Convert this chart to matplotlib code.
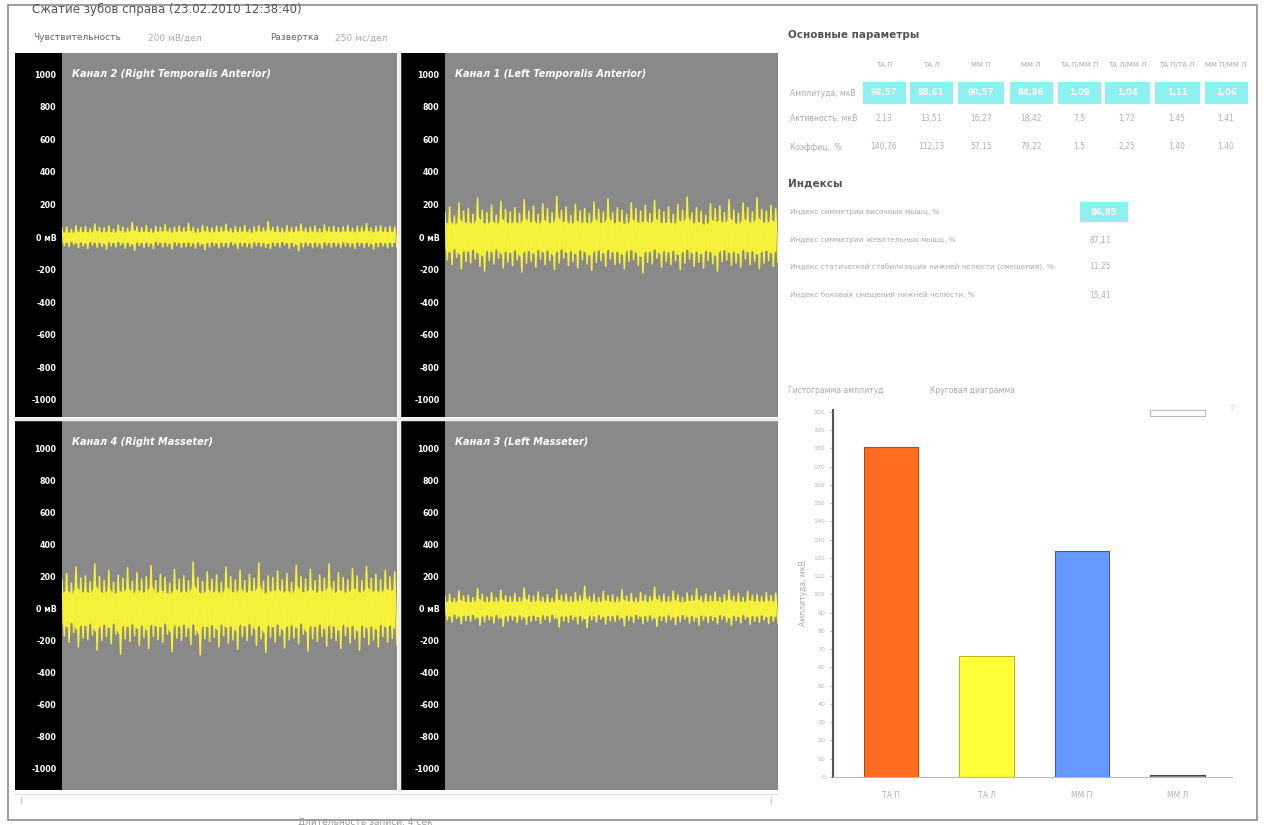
import numpy as np
import matplotlib.pyplot as plt
from matplotlib.patches import Rectangle

# EMG amplitude samples per channel, peaks (hi) and troughs (lo), mV
ch2_hi = [55, 62, 48, 70, 58, 66, 52, 80, 60, 57, 68, 49, 74, 61, 55, 90, 63, 58, 71, 50,
          66, 59, 77, 54, 62, 69, 57, 85, 60, 52, 73, 64, 56, 68, 61, 78, 53, 65, 59, 72,
          48, 63, 70, 57, 95, 60, 66, 54, 71, 58, 64, 80, 56, 62, 69, 51, 75, 60, 67, 58,
          63, 72, 55, 68, 61, 84, 57, 65, 70, 59, 66, 62]
ch2_lo = [-52, -60, -47, -66, -55, -71, -50, -63, -58, -75, -54, -61, -49, -68, -57, -82, -53, -64, -59, -70,
          -48, -62, -56, -73, -51, -65, -60, -57, -69, -54, -78, -61, -52, -66, -58, -63, -50, -72, -56, -60,
          -67, -53, -59, -64, -71, -55, -62, -50, -68, -57, -85, -61, -54, -65, -59, -70, -52, -63, -58, -66,
          -55, -61, -69, -53, -64, -57, -74, -60, -56, -67, -58, -62]

ch1_hi = [150, 185, 130, 210, 160, 175, 140, 240, 165, 150, 195, 135, 220, 170, 155, 180, 145, 230, 160, 190,
          140, 205, 175, 150, 250, 165, 185, 135, 200, 160, 175, 145, 215, 170, 155, 235, 150, 180, 165, 140,
          210, 175, 160, 195, 145, 225, 170, 155, 185, 140, 200, 165, 245, 150, 180, 160, 135, 205, 175, 190,
          150, 230, 165, 145, 210, 180, 155, 240, 170, 160, 195, 175]
ch1_lo = [-140, -170, -125, -195, -150, -160, -135, -180, -210, -145, -165, -130, -190, -155, -175, -140, -215, -160, -150, -185,
          -135, -170, -145, -200, -160, -130, -175, -150, -190, -140, -165, -205, -155, -145, -180, -135, -170, -160, -195, -150,
          -140, -175, -220, -155, -165, -130, -185, -150, -170, -145, -200, -160, -135, -180, -155, -190, -145, -165, -210, -150,
          -140, -175, -160, -185, -135, -170, -150, -195, -160, -145, -180, -155]

ch4_hi = [180, 220, 160, 260, 190, 205, 170, 280, 200, 175, 240, 165, 210, 190, 255, 170, 225, 185, 200, 270,
          175, 215, 195, 160, 245, 185, 205, 175, 290, 195, 170, 230, 185, 210, 165, 260, 200, 180, 240, 175,
          215, 190, 285, 170, 205, 195, 235, 180, 220, 165, 270, 200, 185, 245, 175, 210, 190, 280, 170, 225,
          195, 180, 250, 205, 175, 265, 190, 215, 180, 240, 200, 230]
ch4_lo = [-170, -210, -150, -240, -185, -195, -165, -260, -200, -175, -220, -160, -285, -190, -205, -170, -230, -180, -250, -175,
          -195, -210, -160, -270, -185, -200, -175, -225, -165, -290, -190, -205, -180, -240, -170, -215, -195, -255, -175, -200,
          -165, -230, -190, -275, -180, -210, -170, -245, -195, -185, -220, -160, -265, -190, -205, -175, -235, -185, -200, -250,
          -170, -215, -190, -260, -180, -225, -195, -240, -175, -210, -185, -230]

ch3_hi = [75, 90, 65, 110, 80, 85, 70, 125, 90, 72, 100, 68, 115, 82, 76, 95, 70, 130, 85, 78,
          105, 72, 88, 66, 120, 84, 92, 74, 100, 80, 140, 76, 90, 70, 108, 82, 86, 72, 118, 78,
          95, 68, 102, 84, 76, 135, 80, 90, 74, 110, 86, 70, 98, 82, 124, 76, 92, 80, 104, 72,
          88, 115, 78, 94, 70, 108, 84, 90, 76, 100, 82, 96]
ch3_lo = [-70, -85, -62, -95, -75, -80, -66, -105, -82, -70, -90, -64, -110, -78, -72, -88, -68, -100, -80, -74,
          -92, -68, -84, -62, -115, -78, -86, -70, -96, -76, -120, -72, -85, -66, -98, -78, -82, -68, -108, -74,
          -88, -64, -94, -80, -72, -112, -76, -86, -70, -100, -82, -66, -92, -78, -104, -72, -88, -76, -96, -68,
          -84, -106, -74, -90, -66, -98, -80, -86, -72, -94, -78, -90]

y_ticks = [1000, 800, 600, 400, 200, 0, -200, -400, -600, -800, -1000]
y_ticklabels = ['1000', '800', '600', '400', '200', '0 мВ', '-200', '-400', '-600', '-800', '-1000']

# table of main parameters
param_cols = ['ТА П', 'ТА Л', 'ММ П', 'ММ Л', 'ТА П/ММ П', 'ТА Л/ММ Л', 'ТА П/ТА Л', 'ММ П/ММ Л']
param_rows = ['Амплитуда, мкВ', 'Активность, мкВ', 'Коэффиц., %']
param_vals = [['98,57', '88,61', '90,57', '84,86', '1,09', '1,04', '1,11', '1,06'],
              ['2,13', '13,51', '16,27', '18,42', '7,5', '1,72', '1,45', '1,41'],
              ['140,76', '112,13', '57,15', '79,22', '1,5', '2,25', '1,40', '1,40']]

index_names = ['Индекс симметрии височных мышц, %',
               'Индекс симметрии жевательных мышц, %',
               'Индекс статической стабилизации нижней челюсти (смещения), %',
               'Индекс боковых смещений нижней челюсти, %']
index_vals = ['86,85', '87,11', '11,25', '15,41']

bar_labels = ['ТА П', 'ТА Л', 'ММ П', 'ММ Л']
bar_values = [181, 66, 124, 1]
bar_colors = ['#ff6b1f', '#ffff3a', '#6699ff', '#8a8a8a']
bar_edges = ['#b84a10', '#b8b820', '#3a5fb0', '#444444']

W, H = 1264, 825
fig = plt.figure(figsize=(W / 100, H / 100), dpi=100)
fig.patch.set_facecolor('white')


def box(x0, y0, x1, y1):
    return [x0 / W, 1 - y1 / H, (x1 - x0) / W, (y1 - y0) / H]


def ftext(x, y, s, **kw):
    kw.setdefault('va', 'center')
    return fig.text(x / W, 1 - y / H, s, **kw)


# outer frame
fig.add_artist(Rectangle((8 / W, 5 / H), (1257 - 8) / W, (820 - 5) / H, transform=fig.transFigure,
                         fill=False, ec='#8c8c8c', lw=1.2))

ftext(32, 9, 'Сжатие зубов справа (23.02.2010 12:38:40)', fontsize=8.5, color='#555555')
ftext(33, 38, 'Чувствительность', fontsize=6.5, color='#666666')
ftext(148, 38, '200 мВ/дел', fontsize=6.5, color='#aaaaaa')
ftext(270, 38, 'Развертка', fontsize=6.5, color='#666666')
ftext(335, 38, '250 мс/дел', fontsize=6.5, color='#aaaaaa')

panels = [
    ('Канал 2 (Right Temporalis Anterior)', ch2_hi, ch2_lo, (15, 62, 397, 53, 417), (-1105, 1130)),
    ('Канал 1 (Left Temporalis Anterior)', ch1_hi, ch1_lo, (400, 445, 778, 53, 417), (-1105, 1130)),
    ('Канал 4 (Right Masseter)', ch4_hi, ch4_lo, (15, 62, 397, 420, 790), (-1135, 1180)),
    ('Канал 3 (Left Masseter)', ch3_hi, ch3_lo, (400, 445, 778, 420, 790), (-1135, 1180)),
]

for title, hi, lo, (xs, xg, xr, yt, yb), ylim in panels:
    strip = fig.add_axes(box(xs, yt, xg, yb))
    strip.set_facecolor('black')
    strip.set_xticks([])
    strip.set_yticks([])
    for sp in strip.spines.values():
        sp.set_visible(False)

    ax = fig.add_axes(box(xg, yt, xr, yb))
    ax.set_facecolor('#898989')
    sig = np.empty(2 * len(hi))
    sig[0::2] = hi
    sig[1::2] = lo
    t = np.arange(len(sig))
    # dense core between successive peaks and troughs, spikes drawn on top
    ax.fill_between(t[0::2], np.array(lo) * 0.55, np.array(hi) * 0.55, color='#f3ef3a', lw=0)
    ax.plot(t, sig, color='#f6f23a', lw=1.1)
    ax.set_xlim(0, len(sig) - 1)
    ax.set_ylim(*ylim)
    ax.set_yticks(y_ticks)
    ax.set_yticklabels(y_ticklabels)
    ax.tick_params(axis='y', length=0, pad=4, labelsize=5.8, labelcolor='white')
    for lbl in ax.get_yticklabels():
        lbl.set_fontweight('bold')
    ax.set_xticks([])
    for sp in ax.spines.values():
        sp.set_visible(False)
    ax.text(0.03, 0.955, title, transform=ax.transAxes, color='white', fontsize=7,
            fontweight='bold', style='italic', va='top')

# separators between panels
fig.add_artist(plt.Line2D([15 / W, 778 / W], [1 - 418.5 / H] * 2, color='#eeeeee', lw=2.5))
fig.add_artist(plt.Line2D([398.5 / W] * 2, [1 - 53 / H, 1 - 790 / H], color='#eeeeee', lw=2.5))

# scroll bar under the traces
fig.add_artist(plt.Line2D([15 / W, 778 / W], [1 - 794 / H] * 2, color='#e2e2e2', lw=1))
ftext(20, 800, '|', fontsize=5, color='#999999', ha='center')
ftext(770, 800, '|', fontsize=5, color='#999999', ha='center')
ftext(365, 822, 'Длительность записи: 4 сек', fontsize=6.5, color='#999999', ha='center')

# main parameters table
ftext(788, 35, 'Основные параметры', fontsize=7.5, fontweight='bold', color='#555555')
col_x = [884, 931, 981, 1031, 1079, 1127, 1177, 1226]
col_w = [43, 43, 46, 43, 43, 45, 45, 43]
row_y = [93, 119, 147]
for cx, name in zip(col_x, param_cols):
    ftext(cx, 65, name, fontsize=5, color='#aaaaaa', ha='center')
for i, (ry, rname) in enumerate(zip(row_y, param_rows)):
    ftext(790, ry, rname, fontsize=5.5, color='#aaaaaa')
    for cx, cw, val in zip(col_x, col_w, param_vals[i]):
        if i == 0:
            fig.add_artist(Rectangle(((cx - cw / 2) / W, 1 - (ry + 11) / H), cw / W, 22 / H,
                                     transform=fig.transFigure, fc='#8ff0f0', ec='none'))
            ftext(cx, ry, val, fontsize=6, color='white', fontweight='bold', ha='center')
        else:
            ftext(cx, ry, val, fontsize=5.5, color='#b0b0b0', ha='center')

# indices
ftext(788, 183, 'Индексы', fontsize=7.5, fontweight='bold', color='#555555')
idx_y = [212, 240, 267, 295]
for i, (iy, name, val) in enumerate(zip(idx_y, index_names, index_vals)):
    ftext(790, iy, name, fontsize=5.3, color='#aaaaaa')
    if i == 0:
        fig.add_artist(Rectangle((1080 / W, 1 - 222 / H), 48 / W, 20 / H,
                                 transform=fig.transFigure, fc='#8ff0f0', ec='none'))
        ftext(1104, iy, val, fontsize=6, color='white', fontweight='bold', ha='center')
    else:
        ftext(1100, iy, val, fontsize=5.5, color='#b0b0b0', ha='center')

# amplitude histogram
ftext(788, 391, 'Гистограмма амплитуд', fontsize=5.5, color='#aaaaaa')
ftext(930, 391, 'Круговая диаграмма', fontsize=5.5, color='#aaaaaa')
fig.add_artist(Rectangle((1150 / W, 1 - 416 / H), 55 / W, 6 / H, transform=fig.transFigure,
                         fill=False, ec='#bbbbbb', lw=0.8))
ftext(1232, 410, '?', fontsize=6, color='#cccccc', ha='center')

bx = fig.add_axes(box(833, 410, 1232, 777))
pos = np.arange(len(bar_values))
bx.bar(pos, bar_values, width=0.57, color=bar_colors, edgecolor=bar_edges, lw=0.8)
bx.set_xlim(-0.61, 3.57)
bx.set_ylim(0, 201)
bx.set_yticks(np.arange(0, 201, 10))
bx.tick_params(axis='y', labelsize=4.5, labelcolor='#b5b5b5', color='#bbbbbb', length=2)
bx.set_xticks(pos)
bx.set_xticklabels(bar_labels)
bx.tick_params(axis='x', labelsize=5.5, labelcolor='#b0b0b0', length=0, pad=10)
bx.spines['left'].set_color('#555555')
bx.spines['left'].set_linewidth(1.5)
bx.spines['bottom'].set_color('#bbbbbb')
bx.spines['top'].set_visible(False)
bx.spines['right'].set_visible(False)
bx.set_ylabel('Амплитуда, мкВ', fontsize=5.5, color='#aaaaaa', labelpad=4)

fig.savefig('out.png', dpi=100)
